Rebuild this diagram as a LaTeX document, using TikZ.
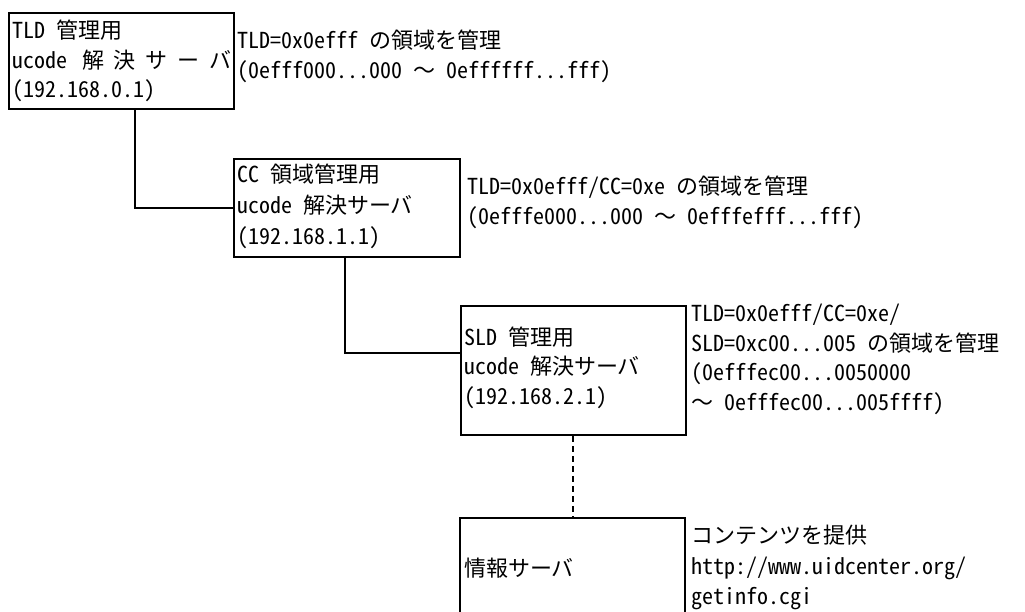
\documentclass[tikz,border=0pt]{standalone}
\usepackage{fontspec}
\setmainfont{Noto Sans CJK JP}[RawFeature=+hwid]
\newfontfamily\jpfull{Noto Sans CJK JP}
\newcommand{\wave}{{\jpfull ～}}
% set Latin characters in fixed half-width cells
\def\mono#1{\monoloop#1\relax}
\def\monoloop#1{\ifx#1\relax\else\makebox[0.5em][c]{#1}\expandafter\monoloop\fi}
\begin{document}
\begin{tikzpicture}[x=1pt,y=-1pt,
  box/.style={draw, line width=2pt, inner sep=0pt, anchor=north west},
  lbl/.style={anchor=west, inner sep=0pt, align=left, font=\fontsize{22}{29.5}\selectfont},
  link/.style={line width=2pt},
  dlink/.style={line width=2pt, dash pattern=on 6pt off 4pt}]
\useasboundingbox (0,0) rectangle (1025,612);
% boxes
\node[box, minimum width=225pt, minimum height=96pt] (b1) at (8,12) {};
\node[box, minimum width=226pt, minimum height=98pt] (b2) at (233,158) {};
\node[box, minimum width=225pt, minimum height=129pt] (b3) at (460,305) {};
\node[inner sep=0pt, anchor=north west, minimum width=225pt, minimum height=94pt] (b4) at (460,518) {};
\draw[link] (b4.south west) |- (b4.north east) -- (b4.south east);
% connectors
\coordinate (j1) at (135,208);
\coordinate (j2) at (345,353);
\coordinate (j3) at (573,0);
\draw[link] (b1.south -| j1) |- (b2.west);
\draw[link] (b2.south -| j2) |- (b3.west |- j2);
\draw[dlink] (b3.south -| j3) -- (b4.north -| j3);
% texts
\node[lbl] (t1) at (12,61) {\mono{TLD~}管理用\\\hbox to 219pt{\mono{ucode}\hspace{15pt}解\hfill 決\hfill サ\hfill ー\hfill バ}\\\mono{(192.168.0.1)}};
\node[lbl] (r1) at (237,56.5) {\mono{TLD=0x0efff~}の領域を管理\\\mono{(0efff000...000~}\wave\mono{~0effffff...fff)}};
\node[lbl, font=\fontsize{22}{31}\selectfont] (t2) at (237,206) {\mono{CC~}領域管理用\\\mono{ucode~}解決サーバ\\\mono{(192.168.1.1)}};
\node[lbl] (r2) at (467,202.5) {\mono{TLD=0x0efff/CC=0xe~}の領域を管理\\\mono{(0efffe000...000~}\wave\mono{~0efffefff...fff)}};
\node[lbl] (t3) at (464,367.5) {\mono{SLD~}管理用\\\mono{ucode~}解決サーバ\\\mono{(192.168.2.1)}};
\node[lbl] (r3) at (691,359.5) {\mono{TLD=0x0efff/CC=0xe/}\\\mono{SLD=0xc00...005~}の領域を管理\\\mono{(0efffec00...0050000}\\\wave\mono{~0efffec00...005ffff)}};
\node[lbl] (t4) at (464,568) {情報サーバ};
\node[lbl, font=\fontsize{22}{30.5}\selectfont] (r4) at (691,567.5) {コンテンツを提供\\\mono{http://www.uidcenter.org/}\\\mono{getinfo.cgi}};
\end{tikzpicture}
\end{document}
